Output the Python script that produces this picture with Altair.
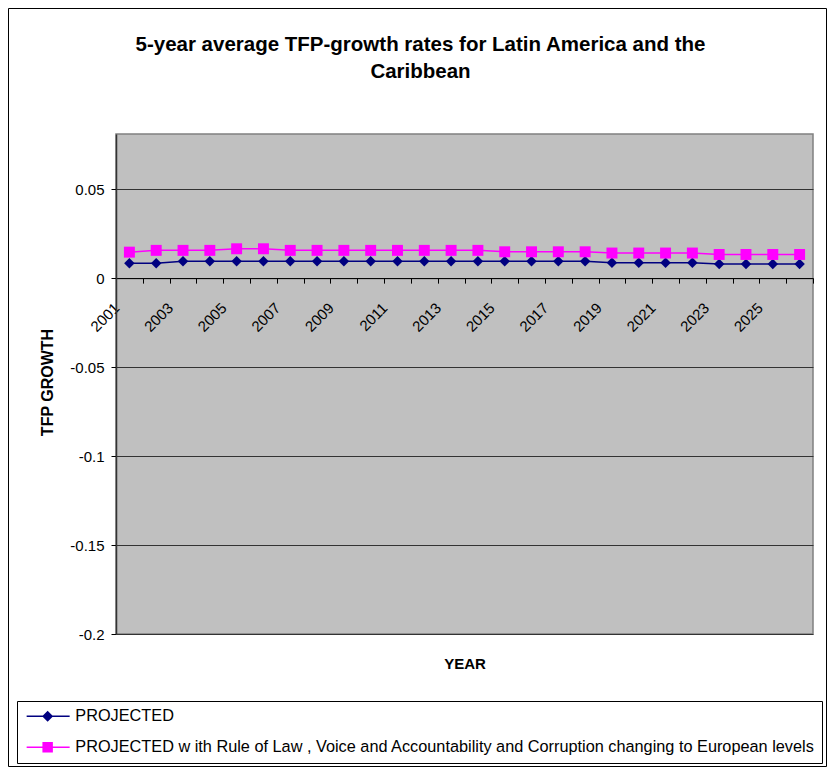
import altair as alt
import pandas as pd

# ---------------- data ----------------
years = [2001, 2002, 2003, 2004, 2005, 2006, 2007, 2008, 2009, 2010, 2011, 2012, 2013,
         2014, 2015, 2016, 2017, 2018, 2019, 2020, 2021, 2022, 2023, 2024, 2025, 2026]
projected = [0.0084, 0.0084, 0.0095, 0.0095, 0.0095, 0.0095, 0.0095, 0.0095, 0.0095,
             0.0095, 0.0095, 0.0095, 0.0095, 0.0095, 0.0095, 0.0095, 0.0095, 0.0095,
             0.0086, 0.0086, 0.0086, 0.0086, 0.0079, 0.0079, 0.0079, 0.0079]
projected_rule_of_law = [0.0146, 0.0156, 0.0156, 0.0156, 0.0165, 0.0165, 0.0156, 0.0156,
                         0.0156, 0.0156, 0.0156, 0.0156, 0.0156, 0.0156, 0.0148, 0.0148,
                         0.0148, 0.0148, 0.0141, 0.0141, 0.0141, 0.0141, 0.0133, 0.0133,
                         0.0133, 0.0133]
series_names = [
    "PROJECTED",
    "PROJECTED w ith Rule of Law , Voice and Accountability and Corruption changing to European levels",
]
series_colors = ["#000080", "#FF00FF"]
y_tick_values = [-0.2, -0.15, -0.1, -0.05, 0, 0.05]
y_domain = [-0.2, 0.081]
title_lines = ["5-year average TFP-growth rates for Latin America and the", "Caribbean"]
x_title = "YEAR"
y_title = "TFP GROWTH"

df = pd.DataFrame({
    "year": years + years,
    "value": projected + projected_rule_of_law,
    "series": [series_names[0]] * len(years) + [series_names[1]] * len(years),
})

# ---------------- layout ----------------
FONT = "Liberation Sans, Arial, sans-serif"
W, H = 697, 500
band = W / len(years)
x_axis_offset = -H * (0 - y_domain[0]) / (y_domain[1] - y_domain[0])

x_scale = alt.Scale(domain=[years[0] - 0.5, years[-1] + 0.5], nice=False, zero=False)
y_scale = alt.Scale(domain=y_domain, nice=False, zero=False)

x_axis = alt.Axis(
    values=years,
    tickOffset=band / 2,
    labelOffset=-band / 2 - 13,
    labelExpr="datum.value % 2 == 1 ? toString(datum.value) : ''",
    labelAngle=315,
    labelAlign="right",
    labelBaseline="middle",
    labelPadding=22,
    labelOverlap=False,
    labelFlush=False,
    labelFont=FONT,
    labelFontSize=15,
    labelColor="black",
    tickSize=5,
    tickColor="black",
    domainColor="black",
    domainWidth=1,
    grid=False,
    offset=x_axis_offset,
    titleFont=FONT,
    titleFontSize=15,
    titleFontWeight="bold",
    titleColor="black",
    titleY=385,
    titleBaseline="middle",
)
y_axis = alt.Axis(
    values=y_tick_values,
    labelExpr="toString(datum.value)",
    labelFont=FONT,
    labelFontSize=15,
    labelColor="black",
    labelPadding=7,
    tickSize=5,
    tickColor="black",
    domainColor="#333333",
    domainWidth=1.5,
    grid=True,
    gridColor="#333333",
    gridWidth=1,
    titleFont=FONT,
    titleFontSize=16,
    titleFontWeight="bold",
    titleColor="black",
    titleAngle=270,
    titleX=-69,
    titleY=H / 2 - 2,
    titleAlign="center",
    titleBaseline="middle",
)

x_enc = alt.X("year:Q", scale=x_scale, axis=x_axis, title=x_title)
y_enc = alt.Y("value:Q", scale=y_scale, axis=y_axis, title=y_title)

base = alt.Chart(df)

# outer chart frame
frame = alt.Chart(pd.DataFrame({"k": [0]})).mark_rect(
    fill="white", fillOpacity=0, stroke="#000000", strokeWidth=1
).encode(x=alt.value(-107.5), x2=alt.value(710.5), y=alt.value(-125.5), y2=alt.value(632.5))

layers = [frame]
markers = ["diamond", "square"]
sizes = [110, 120]
for name, col, shp, sz in zip(series_names, series_colors, markers, sizes):
    sub = base.transform_filter(alt.datum.series == name)
    layers.append(sub.mark_line(color=col, strokeWidth=1.5).encode(x=x_enc, y=y_enc))
    layers.append(sub.mark_point(shape=shp, filled=True, size=sz, color=col, opacity=1,
                                 strokeWidth=0).encode(x=x_enc, y=y_enc))

# legend symbols: line + marker, drawn as custom paths (unit = sqrt(size)/2 px)
diamond_path = ("M-1,-0.136L1.954,-0.136L2.818,-1L3.682,-0.136L6.818,-0.136L6.818,0.136"
                "L3.682,0.136L2.818,1L1.954,0.136L-1,0.136Z")
square_path = ("M-1,-0.136L1.868,-0.136L1.868,-0.95L3.768,-0.95L3.768,-0.136L6.818,-0.136"
               "L6.818,0.136L3.768,0.136L3.768,0.95L1.868,0.95L1.868,0.136L-1,0.136Z")

legend_def = alt.Legend(
    orient="none", legendX=-99, legendY=567, direction="vertical", title=None,
    strokeColor="black", fillColor="white", padding=7,
    labelFont=FONT, labelFontSize=16.3, labelColor="black", labelLimit=0,
    labelOffset=35, rowPadding=14, symbolSize=121, symbolStrokeWidth=0,
    symbolOpacity=1,
)
legend_layer = base.transform_filter("false").mark_point(
    filled=True, strokeWidth=0, opacity=1
).encode(
    x=x_enc, y=y_enc,
    color=alt.Color("series:N", scale=alt.Scale(domain=series_names, range=series_colors),
                    legend=legend_def),
    shape=alt.Shape("series:N", scale=alt.Scale(domain=series_names,
                                                range=[diamond_path, square_path]),
                    legend=legend_def),
)
layers.append(legend_layer)

chart = alt.layer(*layers).properties(
    width=W,
    height=H,
    title=alt.Title(text=title_lines, anchor="middle", dx=-44, offset=-74, fontSize=20.5,
                    font=FONT, fontWeight="bold", color="black", lineHeight=27),
    autosize=alt.AutoSizeParams(type="none"),
    padding={"left": 108, "top": 126, "right": 14, "bottom": 133},
).configure_view(fill="#C0C0C0", stroke="#808080", strokeWidth=1.5)

chart.save("out.html", embed_options={"renderer": "svg", "actions": False})
